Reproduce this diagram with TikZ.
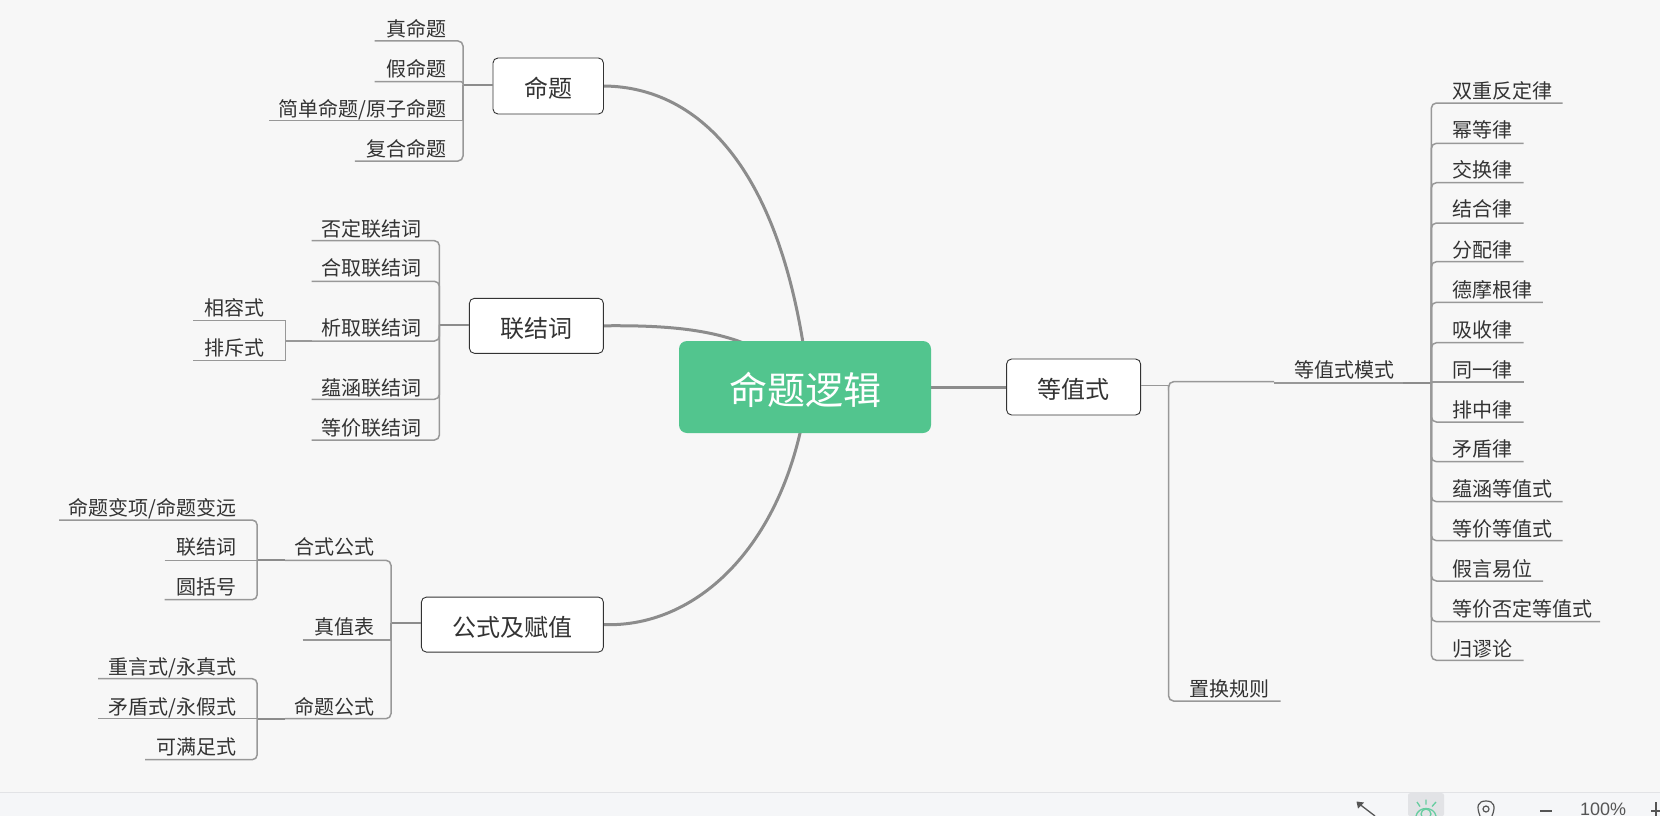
\documentclass[tikz,border=0pt]{standalone}
\usepackage{fontspec}
\setmainfont{Noto Sans CJK SC}
\newfontfamily\uifont{Liberation Sans}
\usetikzlibrary{backgrounds}
\definecolor{pagebg}{HTML}{F7F7F7}
\definecolor{barbg}{HTML}{F5F6F8}
\definecolor{barline}{HTML}{E2E3E6}
\definecolor{inkc}{HTML}{333333}
\definecolor{twigc}{HTML}{989898}
\definecolor{limbc}{HTML}{8C8C8C}
\definecolor{rootc}{HTML}{52C58E}
\definecolor{iconc}{HTML}{555555}
\definecolor{eyec}{HTML}{66CDA0}
\tikzset{
  x=1pt,y=-1pt,
  rootbox/.style={fill=rootc,rounded corners=8pt,text=white,inner sep=0pt,text height=40.4pt,text depth=4.6pt,font=\fontsize{38}{44}\selectfont},
  topicbox/.style={draw=inkc,line width=0.9pt,fill=white,rounded corners=5pt,text=inkc,inner sep=0pt,text height=26pt,text depth=3pt,font=\fontsize{24}{28}\selectfont},
  leaf/.style={text=inkc,inner sep=0pt,font=\fontsize{20}{24}\selectfont},
  twigline/.style={draw=twigc,line width=1.5pt},
  stubline/.style={draw=limbc,line width=2.2pt},
  limb/.style={draw=limbc,line width=3pt},
}
% name, text, anchor, textX, textY, freeX, lineY, hub, radius
\newcommand\twig[9]{%
  \node[leaf,anchor=#3,yshift=-8.3pt] (#1) at (#4,#5) {#2};
  \coordinate (#1-free) at (#6,#7);
  \draw[twigline,rounded corners=#9pt] (#1-free) -| (#8);
}
\begin{document}
\begin{tikzpicture}
\useasboundingbox (0,0) rectangle (1660,816);
\clip (0,0) rectangle (1660,816);

% root and topics
\node[rootbox,minimum width=252pt,minimum height=92pt] (root) at (805,387) {命题逻辑};
\node[topicbox,minimum width=110.5pt,minimum height=56pt] (t1) at (548.2,86) {命题};
\node[topicbox,minimum width=134pt,minimum height=55pt] (t2) at (536.4,325.8) {联结词};
\node[topicbox,minimum width=182pt,minimum height=55pt] (t3) at (512.4,624.6) {公式及赋值};
\node[topicbox,minimum width=134pt,minimum height=56pt] (t4) at (1073.6,387) {等值式};

% limbs behind the root
\begin{pgfonlayer}{background}
\fill[pagebg] (0,0) rectangle (1660,816);
\draw[limb] (t1.east) .. controls (700,87) and (785,170) .. ([xshift=4pt]root.center);
\draw[limb] (t2.east) .. controls (685,325) and (760,331) .. (root.center);
\draw[limb] (t3.east) .. controls (700,628) and (790,540) .. ([xshift=3pt]root.center);
\draw[limb] (root.center) -- (t4.west |- root.center);
\end{pgfonlayer}

% hubs
\coordinate (h1) at (463,84.7);
\coordinate (h2) at (439.4,324.7);
\coordinate (h3) at (391,623.3);
\coordinate (h4) at (1168.6,385.7);
\coordinate (h21) at (285.4,341);
\coordinate (h31) at (257.2,560.3);
\coordinate (h32) at (257.2,718.7);
\coordinate (h41) at (1431.4,383);

\draw[stubline] (h1) -- (h1 -| t1.west);
\draw[stubline] (h2) -- (h2 -| t2.west);
\draw[stubline] (h3) -- (h3 -| t3.west);
\draw[twigline] (h4) -- (h4 -| t4.east);

% 命题
\twig{a1}{真命题}{base east}{446.3}{28}{374.6}{41}{h1}{5}
\twig{a2}{假命题}{base east}{446.3}{68}{374.6}{81.7}{h1}{2}
\twig{a3}{简单命题/原子命题}{base east}{446.3}{108}{269.4}{120.7}{h1}{0}
\twig{a4}{复合命题}{base east}{446.3}{148}{354.8}{161}{h1}{5}

% 联结词
\twig{b1}{否定联结词}{base east}{422}{228}{311.5}{240.7}{h2}{5}
\twig{b2}{合取联结词}{base east}{422}{266.7}{311.5}{281.3}{h2}{5}
\twig{b3}{析取联结词}{base east}{422}{326.7}{311.5}{341}{h2}{5}
\twig{b4}{蕴涵联结词}{base east}{422}{386.7}{311.5}{399.3}{h2}{5}
\twig{b5}{等价联结词}{base east}{422}{426.7}{311.5}{440}{h2}{5}
\draw[twigline] (b3-free) -- (h21);
\twig{b31}{相容式}{base east}{265}{307}{193.2}{320.3}{h21}{0}
\twig{b32}{排斥式}{base east}{265}{346.7}{193.2}{360.7}{h21}{0}

% 公式及赋值
\twig{c1}{合式公式}{base east}{374.7}{546}{285}{560.3}{h3}{5}
\twig{c2}{真值表}{base east}{374.7}{626}{302.6}{640}{h3}{0}
\twig{c3}{命题公式}{base east}{374.7}{706}{285}{718.7}{h3}{5}
\draw[stubline] (c1-free) -- (h31);
\draw[stubline] (c3-free) -- (h32);
\twig{c11}{命题变项/命题变远}{base east}{236.7}{506.7}{59}{520}{h31}{5}
\twig{c12}{联结词}{base east}{236.7}{546}{164.6}{560.3}{h31}{0}
\twig{c13}{圆括号}{base east}{236.7}{586}{164.6}{599.7}{h31}{5}
\twig{c31}{重言式/永真式}{base east}{236.7}{666}{98}{678.7}{h32}{5}
\twig{c32}{矛盾式/永假式}{base east}{236.7}{706}{98}{718.7}{h32}{0}
\twig{c33}{可满足式}{base east}{236.7}{746}{145.2}{759.7}{h32}{5}

% 等值式
\node[leaf,anchor=base west,yshift=-8.3pt] (d1) at (1294,368.7) {等值式模式};
\coordinate (d1-free) at (1274,383);
\coordinate (d1-bend) at (1274,381.7);
\coordinate (d1-thick) at (1403,383);
\draw[twigline,rounded corners=5pt] (d1-bend) -| (h4);
\draw[twigline] (d1-free) -- (h41);
\draw[stubline] (d1-thick) -- (h41);
\twig{d2}{置换规则}{base west}{1189}{687.7}{1280.7}{701}{h4}{5}

% 等值式模式
\twig{e01}{双重反定律}{base west}{1452}{90}{1562.5}{103}{h41}{5}
\twig{e02}{幂等律}{base west}{1452}{129}{1523.6}{143.3}{h41}{5}
\twig{e03}{交换律}{base west}{1452}{169}{1523.6}{182.7}{h41}{5}
\twig{e04}{结合律}{base west}{1452}{208.3}{1523.6}{223}{h41}{5}
\twig{e05}{分配律}{base west}{1452}{249}{1523.6}{261.7}{h41}{5}
\twig{e06}{德摩根律}{base west}{1452}{289}{1542.9}{302.3}{h41}{5}
\twig{e07}{吸收律}{base west}{1452}{329}{1523.6}{342.7}{h41}{5}
\twig{e08}{同一律}{base west}{1452}{368.7}{1523.6}{382}{h41}{0}
\twig{e09}{排中律}{base west}{1452}{408.7}{1523.6}{422}{h41}{5}
\twig{e10}{矛盾律}{base west}{1452}{448.3}{1523.6}{461.7}{h41}{5}
\twig{e11}{蕴涵等值式}{base west}{1452}{488.3}{1562.5}{501.7}{h41}{5}
\twig{e12}{等价等值式}{base west}{1452}{527.7}{1562.5}{540.7}{h41}{5}
\twig{e13}{假言易位}{base west}{1452}{567.7}{1543}{581}{h41}{5}
\twig{e14}{等价否定等值式}{base west}{1452}{607.7}{1600}{621.7}{h41}{5}
\twig{e15}{归谬论}{base west}{1452}{648.3}{1523.6}{660.3}{h41}{5}

% status bar
\fill[barbg] (0,792.5) rectangle (1660,816);
\draw[barline,line width=1pt] (0,792.5) -- (1660,792.5);
\fill[barline,rounded corners=2pt] (1408,793.2) rectangle (1444,816);
% expand icon
\draw[iconc,line width=1.3pt] (1358,803) -- (1375,816);
\fill[iconc] (1356.5,801.5) -- (1364,802.5) -- (1358,808.5) -- cycle;
% eye icon
\draw[eyec,line width=1.3pt] (1417,802) -- (1420,806.5) (1426,799.5) -- (1426,804.5) (1436,802) -- (1432,806.5);
\draw[eyec,line width=1.3pt] (1416,816) .. controls (1418,806) and (1434,806) .. (1436,816);
\draw[eyec,line width=1.3pt] (1426,814) circle (5);
% pin icon
\draw[iconc,line width=1.2pt] (1480,816) .. controls (1476,806) and (1478,801) .. (1486,801) .. controls (1494,801) and (1496,806) .. (1492,816);
\draw[iconc,line width=1.2pt] (1486,809) circle (3);
% zoom controls
\draw[iconc,line width=1.6pt] (1540,811) -- (1552,811);
\node[text=iconc,inner sep=0pt,anchor=base,font=\uifont\fontsize{18}{20}\selectfont] (zoomtext) at (1603,815) {100\%};
\draw[iconc,line width=1.3pt] (1651,811) -- (1660,811) (1656,802) -- (1656,816);
\end{tikzpicture}
\end{document}
